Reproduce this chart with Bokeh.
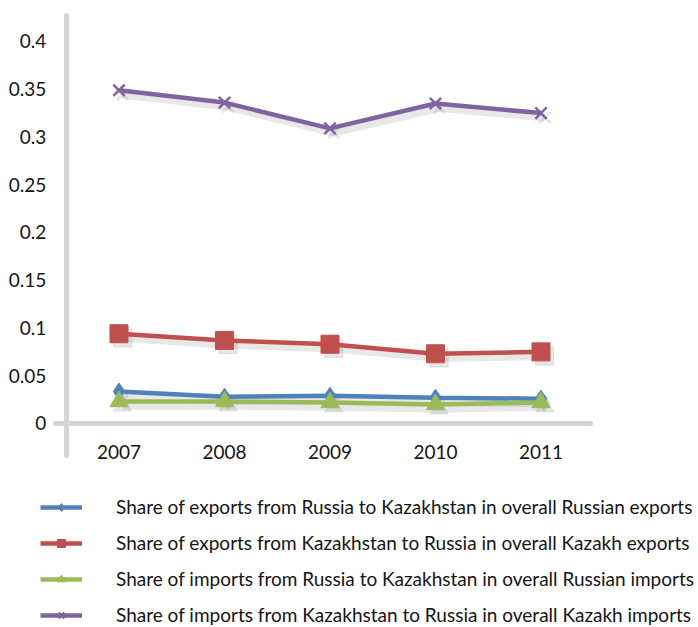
from bokeh.plotting import figure
from bokeh.models import FixedTicker, Legend, LegendItem, ColumnDataSource
from bokeh.embed import file_html
from bokeh.resources import INLINE
from bokeh.transform import dodge

years = [2007, 2008, 2009, 2010, 2011]
exp_ru_kz = [0.0335, 0.028, 0.029, 0.027, 0.026]
exp_kz_ru = [0.094, 0.087, 0.083, 0.073, 0.075]
imp_ru_kz = [0.023, 0.023, 0.022, 0.020, 0.022]
imp_kz_ru = [0.349, 0.336, 0.309, 0.335, 0.325]

series_names = [
    "Share of exports from Russia to Kazakhstan in overall Russian exports",
    "Share of exports from Kazakhstan to Russia in overall Kazakh exports",
    "Share of imports from Russia to Kazakhstan in overall Russian imports",
    "Share of imports from Kazakhstan to Russia in overall Kazakh imports",
]
y_ticks = [0, 0.05, 0.1, 0.15, 0.2, 0.25, 0.3, 0.35, 0.4]
y_tick_labels = ["0", "0.05", "0.1", "0.15", "0.2", "0.25", "0.3", "0.35", "0.4"]

FONT = "Lato"
TXT = "#151515"
colors = ["#4F81BD", "#C0504D", "#9BBB59", "#8064A2"]
markers = ["diamond", "square", "triangle", "x"]
msizes = [17, 18, 18, 16]
series = [exp_ru_kz, exp_kz_ru, imp_ru_kz, imp_kz_ru]

p = figure(width=698, height=627, output_backend="svg", toolbar_location=None,
           x_range=(2005.877, 2012.493), y_range=(-0.2136, 0.4429),
           min_border=0)
p.outline_line_color = None
p.grid.grid_line_color = None

axis_color = "#D5D5D5"

for vals, m, s in zip(series, markers, msizes):
    src = ColumnDataSource(dict(x=years, y=vals))
    p.line(x=dodge("x", 0.035), y=dodge("y", -0.0045), source=src,
           line_color="black", line_alpha=0.09, line_width=8)
    p.scatter(x=dodge("x", 0.035), y=dodge("y", -0.0045), source=src, marker=m, size=s,
              fill_color="black", fill_alpha=0.09, line_color="black", line_alpha=0.09,
              line_width=3 if m == "x" else 1)
items = []
for name, vals, c, m, s in zip(series_names, series, colors, markers, msizes):
    src = ColumnDataSource(dict(x=years, y=vals))
    r1 = p.line("x", "y", source=src, line_color=c, line_width=4.5)
    r2 = p.scatter("x", "y", source=src, marker=m, size=s, fill_color=c,
                   line_color=c, line_width=2.5 if m == "x" else 1)
    items.append(LegendItem(label=name, renderers=[r1, r2]))

for ax in (p.xaxis, p.yaxis):
    ax.axis_line_color = axis_color
    ax.axis_line_width = 5
    ax.axis_line_cap = "round"
    ax.major_tick_line_color = None
    ax.minor_tick_line_color = None
    ax.major_tick_out = 0
    ax.major_tick_in = 0
    ax.major_label_text_font = FONT
    ax.major_label_text_font_size = "19px"
    ax.major_label_text_color = TXT

p.yaxis.ticker = FixedTicker(ticks=y_ticks)
p.yaxis.major_label_overrides = {t: l for t, l in zip(y_ticks, y_tick_labels)}
p.yaxis.fixed_location = 2006.5
p.yaxis.bounds = (-0.034, 0.4267)
p.yaxis.major_label_standoff = 20

p.xaxis.ticker = FixedTicker(ticks=years)
p.xaxis.major_label_overrides = {y: str(y) for y in years}
p.xaxis.fixed_location = 0
p.xaxis.bounds = (2006.40, 2011.465)
p.xaxis.major_label_standoff = 22

legend = Legend(items=items, location=(40, 1), orientation="vertical",
                glyph_width=42, glyph_height=20, label_height=20,
                label_standoff=34, spacing=13,
                label_text_font=FONT, label_text_font_size="19px",
                label_text_color=TXT, padding=0, margin=0,
                border_line_alpha=0, background_fill_alpha=0)
p.add_layout(legend, "center")

open("out.html", "w").write(file_html(p, INLINE))
